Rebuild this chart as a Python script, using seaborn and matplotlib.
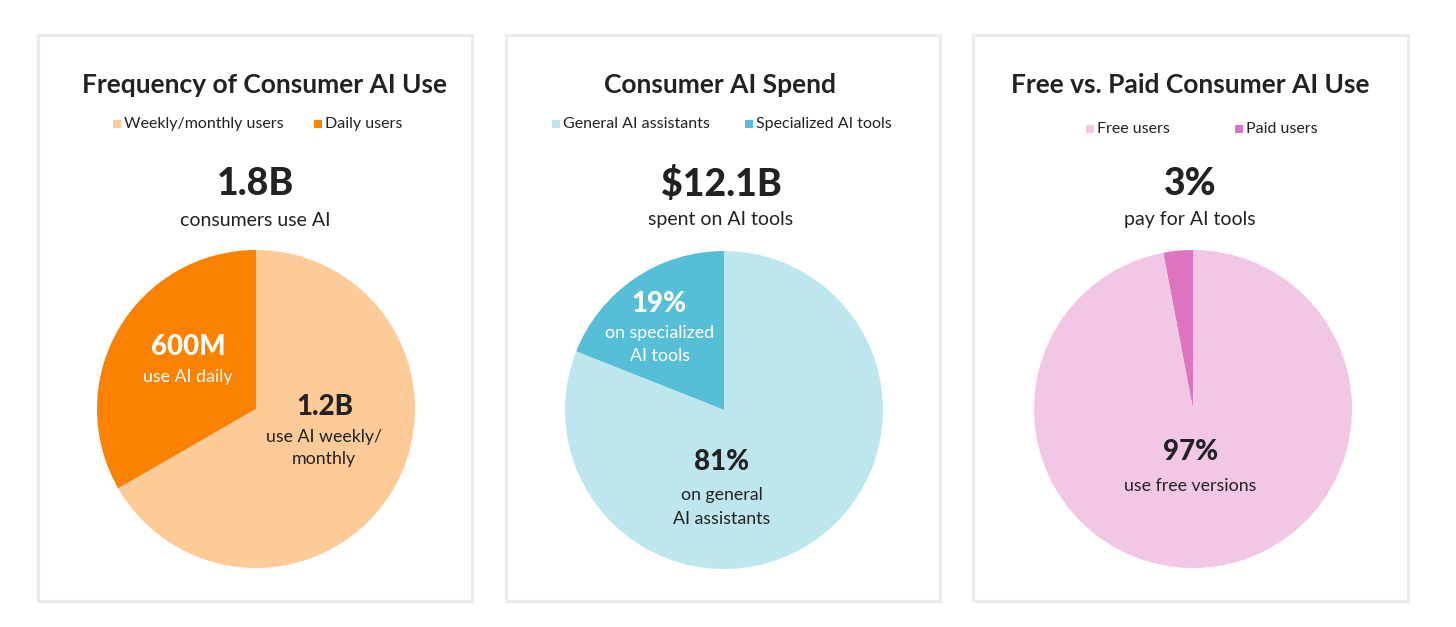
import matplotlib
matplotlib.use("Agg")
import matplotlib.pyplot as plt
from matplotlib.patches import Rectangle
import seaborn as sns

sns.set_theme(style="white")
plt.rcParams['font.family'] = ['Lato', 'DejaVu Sans']

W, H = 1456, 627

# ---- data ----
titles = ["Frequency of Consumer AI Use", "Consumer AI Spend", "Free vs. Paid Consumer AI Use"]
legend_labels = [["Weekly/monthly users", "Daily users"],
                 ["General AI assistants", "Specialized AI tools"],
                 ["Free users", "Paid users"]]
headline_values = ["1.8B", "$12.1B", "3%"]
headline_texts = ["consumers use AI", "spent on AI tools", "pay for AI tools"]
# slice values: [major, minor]
freq_values = [1.2, 0.6]          # billions: weekly/monthly, daily
spend_values = [81, 19]           # % general, specialized
paid_values = [97, 3]             # % free, paid
slice_values = [freq_values, spend_values, paid_values]
major_labels = [("1.2B", "use AI weekly/\nmonthly"), ("81%", "on general\nAI assistants"), ("97%", "use free versions")]
minor_labels = [("600M", "use AI daily"), ("19%", "on specialized\nAI tools"), ("", "")]

# ---- style ----
colors = [["#FDCB97", "#FB8200"], ["#BEE6EE", "#57BED8"], ["#F2C7E5", "#DE74C0"]]
dark = "#222222"

panel_x = [(38, 472), (506, 940), (973, 1408)]
panel_y = (35, 601)
title_x = [264, 720, 1190]
head_x = [255.5, 721, 1190]
pie_centers = [(256, 409), (724, 410), (1193, 409)]
pie_r = 159
legend_y = [124, 124, 129]
legend_sq = [[117, 318], [556, 749], [1090, 1239]]
major_pos = [[(324.5, 407), (324, 448)], [(722, 462), (722, 507)], [(1191, 452), (1190, 486)]]
minor_pos = [[(188, 347), (188, 377)], [(659, 304), (659.5, 344.5)], [None, None]]
line_sp = [1.45, 1.6, 1.5]

fig = plt.figure(figsize=(W / 100, H / 100), dpi=100)
fig.patch.set_facecolor("white")

def fx(x):
    return x / W

def fy(y):
    return 1 - y / H

for i in range(3):
    x0, x1 = panel_x[i]
    fig.patches.append(Rectangle((fx(x0), fy(panel_y[1])), fx(x1) - fx(x0), fy(panel_y[0]) - fy(panel_y[1]),
                                 transform=fig.transFigure, facecolor="white", edgecolor="#ECECEC",
                                 linewidth=2.3, zorder=-5))
    fig.text(fx(title_x[i]), fy(85), titles[i], ha="center", va="center", fontsize=19,
             fontweight="bold", color=dark)
    # legend
    for j in range(2):
        sx = legend_sq[i][j]
        sq = 8
        fig.patches.append(Rectangle((fx(sx - sq / 2), fy(legend_y[i] + sq / 2)), sq / W, sq / H,
                                     transform=fig.transFigure, facecolor=colors[i][j],
                                     edgecolor="none", zorder=2))
        fig.text(fx(sx + 7), fy(legend_y[i]), legend_labels[i][j], ha="left", va="center",
                 fontsize=11.5, color=dark)
    fig.text(fx(head_x[i]), fy(184), headline_values[i], ha="center", va="center", fontsize=27,
             fontweight=900, color=dark)
    fig.text(fx(head_x[i]), fy(220), headline_texts[i], ha="center", va="center", fontsize=14, color=dark)

    # pie
    pcx, pcy = pie_centers[i]
    ax = fig.add_axes([fx(pcx - pie_r), fy(pcy + pie_r), 2 * pie_r / W, 2 * pie_r / H], zorder=1)
    ax.patch.set_alpha(0)
    vals = slice_values[i]
    ax.pie([vals[1], vals[0]], colors=[colors[i][1], colors[i][0]], startangle=90,
           counterclock=True, radius=1, wedgeprops=dict(linewidth=0))
    ax.set_xlim(-1, 1)
    ax.set_ylim(-1, 1)
    ax.set_aspect("equal")
    ax.axis("off")

    # labels
    mp = major_pos[i]
    fig.text(fx(mp[0][0]), fy(mp[0][1]), major_labels[i][0], ha="center", va="center",
             fontsize=20, fontweight=900, color=dark, zorder=5)
    fig.text(fx(mp[1][0]), fy(mp[1][1]), major_labels[i][1], ha="center", va="center",
             fontsize=12.8, color=dark, linespacing=line_sp[i], zorder=5)
    if minor_labels[i][0]:
        mn = minor_pos[i]
        fig.text(fx(mn[0][0]), fy(mn[0][1]), minor_labels[i][0], ha="center", va="center",
                 fontsize=20, fontweight=900, color="white", zorder=5)
        fig.text(fx(mn[1][0]), fy(mn[1][1]), minor_labels[i][1], ha="center", va="center",
                 fontsize=12.8, color="white", linespacing=1.55, zorder=5)

fig.savefig("out.png", dpi=100, facecolor="white")
